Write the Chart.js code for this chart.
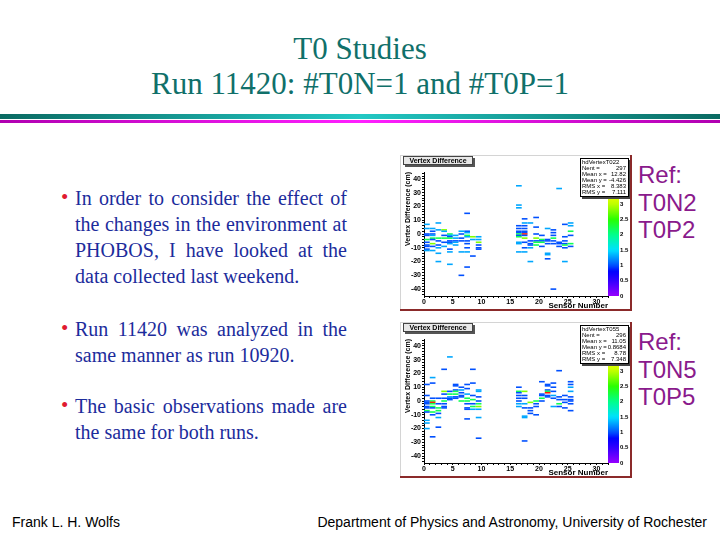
<!DOCTYPE html>
<html>
<head>
<meta charset="utf-8">
<script src="https://cdn.jsdelivr.net/npm/chart.js@4.4.1/dist/chart.umd.min.js"></script>
<style>
body{margin:0;width:720px;height:540px;background:#fff;position:relative;overflow:hidden;font-family:'Liberation Serif','Times New Roman',serif}
.ttl{position:absolute;left:0;width:720px;text-align:center;color:#10706a;font-size:31px;line-height:31px;white-space:nowrap}
.band1{position:absolute;left:0;top:114px;width:720px;height:5px;background:linear-gradient(to right,#0a6a62,#22c8c4 50%,#0a6a62)}
.band2{position:absolute;left:0;top:120px;width:720px;height:3px;background:linear-gradient(to right,#b000b0,#ff20ff 50%,#b000b0)}
.txt{position:absolute;left:75px;width:272px;font-size:20px;line-height:26px;color:#1c2c9c}
.txt span{display:block;white-space:nowrap}
.txt span.j{text-align:justify;text-align-last:justify;white-space:normal}
.dot{position:absolute;left:61px;font-size:21px;line-height:26px;color:#e01a30}
.ref{position:absolute;left:638px;font-family:'Liberation Sans',Arial,sans-serif;font-size:24px;line-height:27.5px;color:#8a1a8c}
.foot{position:absolute;top:514px;font-family:'Liberation Sans',Arial,sans-serif;font-size:14px;line-height:16px;color:#000;white-space:nowrap}
.pad{position:absolute;left:400px;width:232px;height:156px}
</style>
</head>
<body>
<div class="ttl" style="top:33px">T0 Studies</div>
<div class="ttl" style="top:68px">Run 11420: #T0N=1 and #T0P=1</div>
<div class="band1"></div>
<div class="band2"></div>

<div class="dot" style="top:184px">•</div>
<div class="txt" style="top:185px">
<span class="j">In order to consider the effect of</span>
<span class="j">the changes in the environment at</span>
<span class="j">PHOBOS, I have looked at the</span>
<span>data collected last weekend.</span>
</div>
<div class="dot" style="top:315px">•</div>
<div class="txt" style="top:316px">
<span class="j">Run 11420 was analyzed in the</span>
<span>same manner as run 10920.</span>
</div>
<div class="dot" style="top:392px">•</div>
<div class="txt" style="top:393px">
<span class="j">The basic observations made are</span>
<span>the same for both runs.</span>
</div>

<div class="pad" style="top:155px"><canvas id="padA" width="232" height="156"></canvas></div>
<div class="pad" style="top:322px"><canvas id="padB" width="232" height="156"></canvas></div>

<div class="ref" style="top:161px">Ref:<br>T0N2<br>T0P2</div>
<div class="ref" style="top:328px">Ref:<br>T0N5<br>T0P5</div>

<div class="foot" style="left:12px">Frank L. H. Wolfs</div>
<div class="foot" style="right:13px">Department of Physics and Astronomy, University of Rochester</div>

<script>
// sensors that have hits (bin index, cells drawn at s+0.5)
const sensors = [0,1,2,3,4,5,6,7,8,9,16,17,18,19,20,21,22,23,24,25];

// T0N2 / T0P2 : vertex difference (cm) of filled cells per sensor
const vertexA = [
  [7,4,0,-1,-4,-6,-8,-9,-11,-12],
  [4,2,0,-1,-3,-4,-7,-9,-12],
  [8,3,-3,-5,-8,-10,-14,-20],
  [3,2,-1,-3,-6,-9],
  [0,-1,-2,-3,-5,-6,-7,-11,-13,-22],
  [-1,-3,-5,-6,-8],
  [2,0,-3,-5,-13,-30],
  [15,2,1,-1,-2,-5,-7,-10,-13,-24],
  [-2,-4,-16],
  [-2,-4,-6,-8,-10,-11],
  [35,21,19,6,4,2,1,0,-1,-2,-6,-7,-13],
  [11,8,6,4,2,1,0,-1,-3,-6,-10,-13],
  [8,-5,-7,-8,-10,-20],
  [12,5,0,-3,-5,-6,-8],
  [-1,-4,-5,-6,-9],
  [4,-4,-5,-7,-14,-15,-18],
  [3,1,-1,-3,-5,-7,-40],
  [33,-6,-7,-9],
  [7,-2,-5,-7,-8,-10,-20],
  [8,6,2,-1,-7,-9]
];
// bin contents (colour level) for the cells above
const zA = [
  [1.3,1.3,1,1,2.2,1,1,1,1,1.3],
  [1.3,1,1,1.3,2.2,1,2.8,1,1.3],
  [1.3,1.3,2.2,1,1,1.3,1.3,1.3],
  [2.8,1.3,1,2.2,1,1.3],
  [2.2,1.3,1,2.2,1,1,1.3,1,1.3,1.3],
  [1.3,1.3,1,1.3,1.3],
  [1.3,1,1,1,1.3,1],
  [1,1,1.3,2.2,1.3,1,1,1,1.3,1],
  [2.8,1.3,1],
  [1.3,1.3,2.8,1,1,1],
  [1.3,1.3,1.3,1,1,1,1,2.2,1,2.2,1.3,1.3,1.3],
  [1,1.3,1,1,1,1,4,1,2.8,1,1,1.3],
  [1.3,1,1,1,1.3,1.3],
  [1,1,1,2.8,1,2.2,2.2],
  [1,2.2,1,2.2,1],
  [1.3,1,1,1,1.3,1.3,1],
  [1,1,1,2.2,1,1,1],
  [1.3,1,1,1],
  [1,1,1,1,2.2,1,1.3],
  [1.3,1.3,2.2,1,2.2,1]
];

// T0N5 / T0P5
const vertexB = [
  [12,4,0,-1,-2,-4,-5,-7,-8,-14,-16,-20],
  [17,13,2,0,-1,-2,-4,-5,-8,-10,-26],
  [2,-2,-5,-7,-9,-12,-19],
  [23,7,5,2,0,-2,-4,-5],
  [32,7,5,3,2,1],
  [12,11,8,7,5,3,2],
  [10,8,6,4,3,0],
  [12,9,5,2,0,-2,-5,-6,-13],
  [23,13,4,1,-2,-4,-6],
  [8,7,3,0,-2,-4,-6,-12,-27],
  [10,7,6,4,2,0,-2,-4],
  [7,4,2,-2,-5,-11,-12,-29],
  [-1,-5,-7,-9],
  [0,-2,-4,-10],
  [14,5,4,2,0],
  [12,11,8,7,6,4,3],
  [13,10,7,4,2,-4],
  [22,3,1,-2,-4],
  [4,1,-1,-5],
  [14,12,10,7,3,1,0,-2,-7]
];
const zB = [
  [1,1,1,1,1,1,1,2.2,1,1.3,1.3,1.3],
  [1.3,1,1,2.2,4,2.2,2.2,1,2.2,1,1],
  [1,1,2.2,2.2,1,1.3,1],
  [1,2.8,1,1,2.2,1,1,1],
  [1.3,1,2.2,1.3,1,1],
  [1,1,1,2.2,2.2,1,1],
  [1,1.3,1,1,1,2.2],
  [1,1,1.3,2.2,2.2,1,1,1,1],
  [1,1,1,2.2,1,2.2,1.3],
  [1.3,1.3,1,1,2.2,2.8,1.3,1.3,1],
  [1,2.2,1,1,1,1,1.3,1.3],
  [2.8,1,1,1.3,1,1.3,1.3,1],
  [2.8,1,1,1],
  [2.2,1,1,1],
  [1,1,1,2.2,1],
  [1,1,1,2.2,4,1,1],
  [1,1,1,1.3,1,1.3],
  [1,1,1,2.2,1],
  [1,1,1,1],
  [1,1,1.3,1.3,1,1,1,1,1]
];

const statsA = ['hdVertexT022', ['Nent', '297'], ['Mean x', '12.82'], ['Mean y', '-4.426'], ['RMS x', '8.383'], ['RMS y', '7.111']];
const statsB = ['hdVertexT055', ['Nent', '296'], ['Mean x', '11.05'], ['Mean y', '0.8684'], ['RMS x', '8.78'], ['RMS y', '7.348']];

const zMax = 4.05;
const palStops = [
  [0, [150,0,255]], [0.5, [50,0,255]], [0.8, [0,0,255]], [1.0, [0,80,255]],
  [1.5, [0,225,255]], [2.0, [0,255,140]], [2.5, [40,255,0]], [3.0, [190,255,0]],
  [3.4, [255,255,0]], [3.8, [255,140,0]], [4.05, [255,0,0]]
];

function palette(v) {
  for (let i = 1; i < palStops.length; i++) {
    const [v1, c1] = palStops[i];
    const [v0, c0] = palStops[i - 1];
    if (v <= v1) {
      const t = (v - v0) / (v1 - v0);
      const c = c0.map((a, k) => Math.round(a + (c1[k] - a) * t));
      return 'rgb(' + c.join(',') + ')';
    }
  }
  return 'rgb(255,0,0)';
}

const plotFont = 'Liberation Sans, Arial, Helvetica, sans-serif';

const rootPad = {
  id: 'rootPad',
  beforeDraw(chart) {
    const ctx = chart.ctx;
    ctx.save();
    ctx.fillStyle = '#fff';
    ctx.fillRect(0, 0, chart.width, chart.height);
    ctx.restore();
  },
  afterDraw(chart, args, opts) {
    const {ctx, chartArea: a, width: w, height: h} = chart;
    const z = chart.scales.z;
    ctx.save();
    // colour palette
    const top = z.getPixelForValue(z.max), bot = z.getPixelForValue(0);
    const g = ctx.createLinearGradient(0, bot, 0, top);
    for (let i = 0; i <= 50; i++) g.addColorStop(i / 50, palette(z.max * i / 50));
    ctx.fillStyle = g;
    ctx.fillRect(a.right, top, 11, bot - top);

    // title box
    ctx.fillStyle = '#555';
    ctx.fillRect(5, 3, 70, 9);
    ctx.fillStyle = '#e8e8e8';
    ctx.fillRect(3, 1, 70, 9);
    ctx.strokeStyle = '#444';
    ctx.lineWidth = 1;
    ctx.strokeRect(3.5, 1.5, 69, 8);
    ctx.fillStyle = '#000';
    ctx.font = 'bold 7px ' + plotFont;
    ctx.textAlign = 'center';
    ctx.textBaseline = 'middle';
    ctx.fillText('Vertex Difference', 38, 6);

    // stats box
    const bx = 180, by = 3, bw = 49, bh = 39;
    ctx.fillStyle = '#444';
    ctx.fillRect(bx + 2, by + 2, bw, bh);
    ctx.fillStyle = '#fff';
    ctx.fillRect(bx, by, bw, bh);
    ctx.strokeStyle = '#000';
    ctx.strokeRect(bx + 0.5, by + 0.5, bw - 1, bh - 1);
    ctx.font = '6px ' + plotFont;
    ctx.fillStyle = '#000';
    ctx.textBaseline = 'middle';
    ctx.textAlign = 'left';
    const st = opts.stats;
    ctx.fillText(st[0], bx + 2, by + 4.5);
    for (let i = 1; i < st.length; i++) {
      const y = by + 4.5 + i * 6;
      ctx.textAlign = 'left';
      ctx.fillText(st[i][0] + ' =', bx + 2, y);
      ctx.textAlign = 'right';
      ctx.fillText(st[i][1], bx + bw - 3, y);
    }

    // pad border
    ctx.fillStyle = '#d4d4d4';
    ctx.fillRect(0, 0, 1, h);
    ctx.fillRect(0, 0, w, 1);
    ctx.fillStyle = '#8b2a2a';
    ctx.fillRect(w - 2, 0, 2, h);
    ctx.fillRect(0, h - 2, w, 2);
    ctx.restore();
  }
};

function makePad(id, vertex, levels, stats) {
  const pts = [], cols = [];
  sensors.forEach((s, i) => {
    vertex[i].forEach((v, j) => {
      pts.push({x: s + 0.5, y: v});
      cols.push(palette(levels[i][j]));
    });
  });
  const tickFont = {family: plotFont, size: 7, weight: 'bold'};
  return new Chart(document.getElementById(id), {
    type: 'scatter',
    data: {
      datasets: [{
        data: pts,
        pointStyle: 'line',
        pointRadius: 2.85,
        pointBorderWidth: 1.6,
        pointBorderColor: ctx => cols[ctx.dataIndex],
        pointBackgroundColor: ctx => cols[ctx.dataIndex]
      }]
    },
    options: {
      responsive: false,
      animation: false,
      events: [],
      layout: {padding: {top: 17, left: 0, right: 0, bottom: 0}},
      plugins: {legend: {display: false}, tooltip: {enabled: false}, rootPad: {stats: stats}},
      scales: {
        x: {
          type: 'linear', min: 0, max: 32,
          afterFit: s => { s.height = 15; },
          ticks: {stepSize: 1, autoSkip: false, maxRotation: 0, padding: 0, color: '#000', font: tickFont,
                  callback: v => (v % 5 === 0 && v <= 30) ? v : ''},
          grid: {drawOnChartArea: false, tickLength: 2, color: '#000'},
          border: {color: '#000'},
          title: {display: true, text: 'Sensor Number', align: 'end', color: '#000',
                  font: {family: plotFont, size: 8, weight: 'bold'}, padding: {top: 0, bottom: 0}}
        },
        y: {
          min: -45, max: 45,
          afterFit: s => { s.width = 24; },
          ticks: {stepSize: 1, autoSkip: false, padding: 1, color: '#000', font: tickFont,
                  callback: v => v % 10 === 0 ? v : ''},
          grid: {drawOnChartArea: false, tickLength: 2,
                 color: c => (c.tick && c.tick.value % 2 === 0) ? '#000' : 'rgba(0,0,0,0)'},
          border: {color: '#000'},
          title: {display: true, text: 'Vertex Difference (cm)', align: 'end', color: '#000',
                  font: {family: plotFont, size: 7, weight: 'bold'}, padding: {top: 4, bottom: 0}}
        },
        z: {
          position: 'right', min: 0, max: zMax,
          afterFit: s => { s.width = 24; },
          ticks: {stepSize: 0.5, autoSkip: false, padding: 1, color: '#000',
                  font: {family: plotFont, size: 6, weight: 'bold'},
                  callback: v => (Math.abs(v * 2 - Math.round(v * 2)) < 1e-6) ? v : ''},
          grid: {drawOnChartArea: false, tickLength: 11, color: 'rgba(0,0,0,0)'},
          border: {display: false}
        }
      }
    },
    plugins: [rootPad]
  });
}

makePad('padA', vertexA, zA, statsA);
makePad('padB', vertexB, zB, statsB);
</script>
</body>
</html>
